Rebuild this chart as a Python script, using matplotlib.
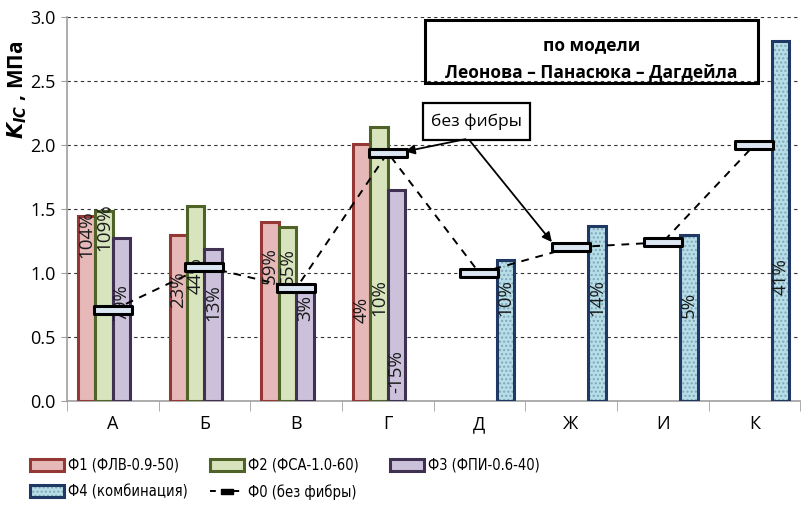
import numpy as np
import matplotlib
matplotlib.use("Agg")
import matplotlib.pyplot as plt
from matplotlib import font_manager as fm
from matplotlib.patches import Patch, Rectangle
from matplotlib.lines import Line2D
from matplotlib.path import Path
from matplotlib.legend_handler import HandlerTuple

plt.rcParams['font.family'] = ['Open Sans', 'DejaVu Sans']

categories = ["А", "Б", "В", "Г", "Д", "Ж", "И", "К"]
nan = np.nan
f1 = [1.445, 1.30, 1.40, 2.01, nan, nan, nan, nan]
f2 = [1.485, 1.52, 1.36, 2.14, nan, nan, nan, nan]
f3 = [1.27, 1.19, 0.91, 1.65, nan, nan, nan, nan]
f4 = [nan, nan, nan, nan, 1.10, 1.37, 1.30, 2.81]
f0 = [0.71, 1.05, 0.88, 1.94, 1.00, 1.20, 1.24, 2.00]

f1_pct = ["104%", "23%", "59%", "4%"]
f2_pct = ["109%", "44%", "55%", "10%"]
f3_pct = ["79%", "13%", "3%", "-15%"]
f4_pct = ["10%", "14%", "5%", "41%"]
f1_pct_y = [1.30, 0.87, 1.06, 0.71]
f2_pct_y = [1.36, 0.98, 1.05, 0.81]
f3_pct_y = [0.77, 0.77, 0.73, 0.23]
f4_pct_y = [0.81, 0.81, 0.75, 0.97]

series_labels = ["Ф1 (ФЛВ-0.9-50)", "Ф2 (ФСА-1.0-60)", "Ф3 (ФПИ-0.6-40)",
                 "Ф4 (комбинация)", "Ф0 (без фибры)"]
fills = ["#E6B9B8", "#D7E4BD", "#CCC1DA", "#B7DEE8"]
edges = ["#953735", "#4F6228", "#403152", "#1F3864"]

# pick a narrow font for the legend if one is installed
fonts = fm.fontManager.ttflist
names = {f.name for f in fonts}
if "Liberation Sans Narrow" in names:
    leg_prop = fm.FontProperties(family="Liberation Sans Narrow", size=12.5)
elif any(f.name == "DejaVu Sans" and f.stretch == "condensed" for f in fonts):
    leg_prop = fm.FontProperties(family="DejaVu Sans", stretch="condensed", size=10.5)
else:
    leg_prop = fm.FontProperties(family="Open Sans", size=10)

fig = plt.figure(figsize=(8.05, 5.08), dpi=100)
ax = fig.add_axes([0.0832, 0.2106, 0.9108, 0.7559])

x = np.arange(len(categories))
w = 0.19
series = [f1, f2, f3, f4]
handles = []
for i, vals in enumerate(series):
    pos = x + (i - 1.5) * w
    v = np.array(vals, dtype=float)
    if i < 3:
        ax.bar(pos, v, w, color=fills[i], edgecolor=edges[i], linewidth=2.2, zorder=3)
        handles.append(Patch(facecolor=fills[i], edgecolor=edges[i], linewidth=2.2))
    else:
        ax.bar(pos, v, w, color=fills[i], edgecolor="#7FA7B5", hatch="....",
               linewidth=0, zorder=3)
        ax.bar(pos, v, w, color="none", edgecolor=edges[i], linewidth=2.2, zorder=4)
        handles.append((Patch(facecolor=fills[i], edgecolor="#7FA7B5", hatch="....", linewidth=0),
                        Patch(facecolor="none", edgecolor=edges[i], linewidth=2.2)))

# percentage labels
pct_sets = [(f1_pct, f1_pct_y, 0, range(0, 4)), (f2_pct, f2_pct_y, 1, range(0, 4)),
            (f3_pct, f3_pct_y, 2, range(0, 4)), (f4_pct, f4_pct_y, 3, range(4, 8))]
for labels, ys, i, idxs in pct_sets:
    for lab, yy, k in zip(labels, ys, idxs):
        ax.text(x[k] + (i - 1.5) * w, yy, lab, rotation=90, ha="center", va="center",
                fontsize=13.5, color="#1a1a1a", zorder=6)

# Ф0 line with rectangular markers
rect_marker = Path([(-1, -0.2), (1, -0.2), (1, 0.2), (-1, 0.2), (-1, -0.2)],
                   [Path.MOVETO, Path.LINETO, Path.LINETO, Path.LINETO, Path.CLOSEPOLY])
ax.plot(x, f0, linestyle=(0, (4, 3.5)), color="black", lw=1.4, zorder=5)
ax.plot(x, f0, linestyle="none", marker=rect_marker, markersize=28,
        markerfacecolor="#DCE6F2", markeredgecolor="black", markeredgewidth=2.2, zorder=7)
h0 = Line2D([], [], linestyle=(0, (3, 3)), color="black", lw=1.4,
            marker=Path([(-1, -0.45), (1, -0.45), (1, 0.45), (-1, 0.45), (-1, -0.45)],
                        [Path.MOVETO, Path.LINETO, Path.LINETO, Path.LINETO, Path.CLOSEPOLY]),
            markersize=8, markerfacecolor="black", markeredgecolor="black")

ax.set_xlim(-0.5, len(categories) - 0.5)
ax.set_ylim(0, 3.0)
ax.set_yticks(np.arange(0, 3.01, 0.5))
ax.set_yticklabels([f"{v:.1f}" for v in np.arange(0, 3.01, 0.5)], fontsize=13)
ax.set_xticks(x)
ax.set_xticklabels(categories, fontsize=13)
ax.tick_params(axis="x", which="major", length=0, pad=10)
ax.set_xticks(np.arange(-0.5, len(categories), 1), minor=True)
ax.tick_params(axis="x", which="minor", length=7, color="#A0A0A0", direction="out")
ax.tick_params(axis="y", length=4, color="#A0A0A0", pad=4)
ax.grid(axis="y", linestyle=(0, (3, 3)), color="#333333", lw=0.8, zorder=0)
for s in ["top", "right"]:
    ax.spines[s].set_visible(False)
ax.spines["left"].set_color("#A0A0A0")
ax.spines["bottom"].set_color("#A0A0A0")
ax.spines["left"].set_linewidth(1.2)
ax.spines["bottom"].set_linewidth(1.2)

ax.set_ylabel(r"$\mathbfit{K}_{\mathbfit{IC}}$ , МПа", fontsize=15, fontweight="bold", labelpad=2)
ax.yaxis.set_label_coords(-0.052, 0.81)

# title box
ax.add_patch(Rectangle((3.41, 2.484), 3.63, 0.493, fill=False, edgecolor="black", lw=2.2,
                       zorder=8, clip_on=False))
ax.text(5.22, 2.78, "по модели", ha="center", va="center", fontsize=12.5, fontweight="bold", zorder=9)
ax.text(5.22, 2.57, "Леонова – Панасюка – Дагдейла", ha="center", va="center", fontsize=12.5,
        fontweight="bold", zorder=9)

# "без фибры" callout
ax.add_patch(Rectangle((3.38, 2.04), 1.17, 0.29, facecolor="white", edgecolor="black", lw=1.6,
                       zorder=8))
ax.text(3.965, 2.18, "без фибры", ha="center", va="center", fontsize=12.5, zorder=9)
for tx, ty in [(3.16, 1.945), (4.81, 1.225)]:
    ax.annotate("", xy=(tx, ty), xytext=(3.877, 2.05),
                arrowprops=dict(arrowstyle="-|>", color="black", lw=1.3, mutation_scale=14),
                zorder=9)

# legend: three columns placed individually
cols = [([handles[0], handles[3]], [series_labels[0], series_labels[3]], 30),
        ([handles[1], h0], [series_labels[1], series_labels[4]], 210),
        ([handles[2]], [series_labels[2]], 390)]
for hs, ls, px in cols:
    fig.legend(hs, ls, handler_map={tuple: HandlerTuple(ndivide=1, pad=0)},
               loc="upper left", bbox_to_anchor=(px / 805, 1 - 458 / 508), ncol=1, frameon=False,
               prop=leg_prop, handlelength=2.3, handleheight=0.9, handletextpad=0.3,
               labelspacing=0.75, borderpad=0, borderaxespad=0)

fig.savefig("out.png", dpi=100)
